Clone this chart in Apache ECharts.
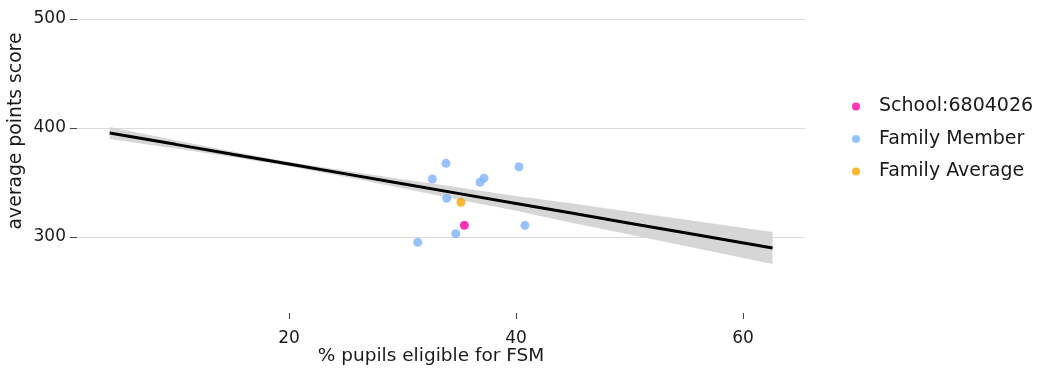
<!DOCTYPE html>
<html>
<head>
<meta charset="utf-8">
<script src="https://cdn.jsdelivr.net/npm/echarts@6/dist/echarts.min.js"></script>
<style>
  html, body { margin: 0; padding: 0; background: #fff; }
  #chart { width: 1037px; height: 369px; }
</style>
</head>
<body>
<div id="chart"></div>
<script>
// school being looked at
const schoolPoint = [[35.45, 310.7]];

// other schools in the family
const familyPoints = [
  [33.83, 367.6], [32.63, 353.2], [40.26, 364.5], [36.83, 350.2],
  [37.18, 353.9], [33.89, 335.5], [40.79, 310.7], [34.69, 303.0],
  [31.34, 295.1]
];

const familyAverage = [[35.15, 331.8]];

// regression line and confidence band
const fitX     = [4.2, 10, 15, 20, 25, 30, 35, 40, 45, 50, 55, 62.6];
const fitY     = [395.4, 385.0, 375.9, 366.9, 357.9, 348.8, 339.8, 330.8, 321.8, 312.7, 303.7, 290.0];
const bandHalf = [5.5, 3.8, 2.5, 2.0, 2.8, 4.1, 5.6, 6.8, 8.9, 10.5, 12.2, 14.7];

const xTicks = [20, 40, 60];
const yTicks = [300, 400, 500];

const fitLine = fitX.map((x, i) => [x, fitY[i]]);
const bandData = fitX.map((x, i) => [x, fitY[i] - bandHalf[i], fitY[i] + bandHalf[i]]);

const font = '"DejaVu Sans", Verdana, sans-serif';
const textColor = '#1a1a1a';
const chart = echarts.init(document.getElementById('chart'));

chart.setOption({
  animation: false,
  textStyle: { fontFamily: font },
  grid: { left: 77, right: 232, top: 19, bottom: 126, outerBoundsMode: 'none', containLabel: false },
  legend: {
    orient: 'vertical',
    left: 847,
    top: 92,
    itemGap: 13.5,
    itemWidth: 8,
    itemHeight: 8,
    icon: 'circle',
    textStyle: { fontSize: 19, color: textColor, fontFamily: font, padding: [0, 0, 0, 14] },
    data: ['School:6804026', 'Family Member', 'Family Average']
  },
  xAxis: {
    type: 'value',
    min: 1.32,
    max: 65.46,
    offset: 70,
    name: '% pupils eligible for FSM',
    nameLocation: 'middle',
    nameGap: 34,
    nameMoveOverlap: false,
    nameTextStyle: { fontSize: 18.5, color: textColor, padding: [0, 20, 0, 0] },
    axisLine: { show: false },
    axisTick: { show: true, length: 6, customValues: xTicks, lineStyle: { color: '#444' } },
    axisLabel: { customValues: xTicks, fontSize: 17, color: textColor, margin: 17 },
    splitLine: { show: false }
  },
  yAxis: {
    type: 'value',
    min: 294.5,
    max: 500,
    name: 'average points score',
    nameLocation: 'middle',
    nameGap: 51,
    nameMoveOverlap: false,
    nameTextStyle: { fontSize: 18.8, color: textColor },
    axisLine: { show: false },
    axisTick: { show: true, length: 7, customValues: yTicks, lineStyle: { color: '#444' } },
    axisLabel: { customValues: yTicks, fontSize: 17, color: textColor, margin: 11 },
    splitLine: { show: true, lineStyle: { color: '#dcdcdc', width: 1 } }
  },
  series: [
    {
      type: 'custom',
      silent: true,
      clip: false,
      data: [0],
      renderItem: (params, api) => {
        const upper = bandData.map(d => api.coord([d[0], d[2]]));
        const lower = bandData.map(d => api.coord([d[0], d[1]])).reverse();
        return {
          type: 'polygon',
          shape: { points: upper.concat(lower) },
          style: { fill: '#d6d6d6' }
        };
      }
    },
    {
      type: 'line',
      data: fitLine,
      clip: false,
      symbol: 'none',
      lineStyle: { color: '#000', width: 3 },
      silent: true
    },
    {
      name: 'Family Member',
      type: 'scatter',
      data: familyPoints,
      symbolSize: 9,
      itemStyle: { color: '#7db3fb' }
    },
    {
      name: 'Family Average',
      type: 'scatter',
      data: familyAverage,
      symbolSize: 9,
      itemStyle: { color: '#ffa500' }
    },
    {
      name: 'School:6804026',
      type: 'scatter',
      data: schoolPoint,
      symbolSize: 9,
      itemStyle: { color: '#ff00a5' }
    }
  ]
});
</script>
</body>
</html>
